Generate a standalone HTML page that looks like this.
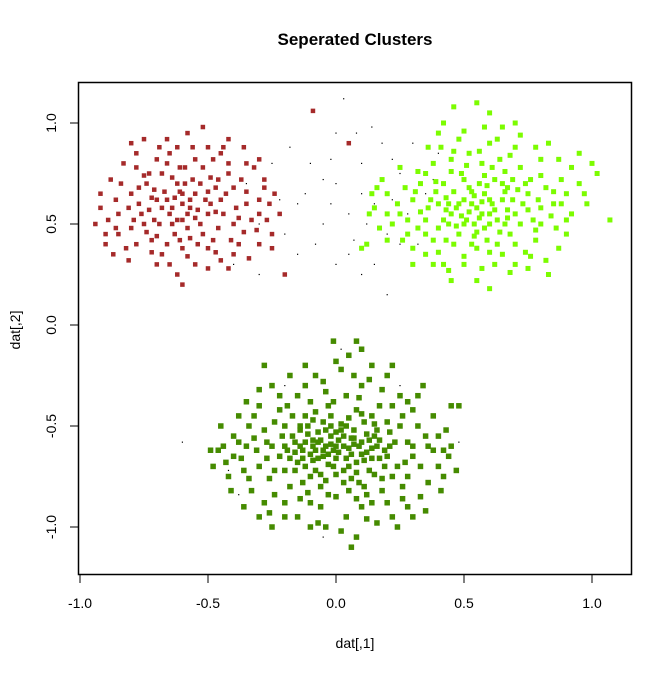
<!DOCTYPE html>
<html><head><meta charset="utf-8"><style>
body{margin:0;background:#fff}
svg text{font-family:"Liberation Sans",Arial,sans-serif;fill:#000}
</style></head><body>
<svg id="chart" width="672" height="672" viewBox="0 0 672 672" xmlns="http://www.w3.org/2000/svg">
<rect width="672" height="672" fill="#fff"/>
<text x="355" y="45" font-size="17" font-weight="bold" text-anchor="middle">Seperated Clusters</text>
<rect x="78.5" y="82.5" width="553" height="492" fill="none" stroke="#000" stroke-width="1.5"/>
<g id="axes"></g>
<g id="points"></g>
<text x="355" y="648" font-size="14" text-anchor="middle">dat[,1]</text>
<text transform="translate(20,330) rotate(-90)" font-size="14" text-anchor="middle">dat[,2]</text>
</svg>
<script>
const xTicks=[-1.0,-0.5,0.0,0.5,1.0];
const xTickLabels=["-1.0","-0.5","0.0","0.5","1.0"];
const yTicks=[-1.0,-0.5,0.0,0.5,1.0];
const yTickLabels=["-1.0","-0.5","0.0","0.5","1.0"];
const greenPts=[[-0.02,-0.55],[0.03,-0.6],[-0.08,-0.62],[0.07,-0.52],[0.0,-0.66],[-0.12,-0.58],[0.12,-0.63],[-0.05,-0.48],[0.05,-0.7],[-0.15,-0.68],[0.15,-0.55],[-0.1,-0.75],[0.09,-0.78],[-0.2,-0.5],[0.2,-0.65],[-0.25,-0.6],[0.25,-0.5],[-0.18,-0.8],[0.18,-0.82],[-0.3,-0.7],[0.3,-0.6],[-0.03,-0.4],[0.08,-0.42],[-0.12,-0.45],[0.14,-0.45],[0.0,-0.85],[-0.06,-0.9],[0.04,-0.95],[-0.22,-0.42],[0.22,-0.4],[-0.28,-0.52],[0.28,-0.75],[-0.35,-0.6],[0.35,-0.55],[-0.33,-0.82],[0.33,-0.85],[-0.4,-0.65],[0.4,-0.7],[-0.15,-0.35],[0.1,-0.3],[-0.05,-0.28],[0.18,-0.32],[-0.25,-0.3],[0.25,-0.35],[-0.28,-0.2],[0.02,-0.22],[0.08,-0.08],[0.14,-0.2],[-0.08,-0.25],[-0.45,-0.5],[0.45,-0.4],[0.42,-0.62],[-0.42,-0.75],[-0.38,-0.45],[0.38,-0.45],[-0.2,-0.95],[0.22,-0.95],[-0.1,-1.0],[0.08,-1.05],[0.06,-1.1],[-0.25,-1.0],[0.3,-0.95],[-0.36,-0.9],[0.36,-0.78],[-0.48,-0.7],[0.48,-0.4],[-0.04,-0.6],[0.01,-0.57],[-0.07,-0.53],[0.06,-0.64],[-0.01,-0.7],[0.1,-0.58],[-0.13,-0.62],[0.16,-0.6],[-0.17,-0.55],[0.19,-0.7],[-0.09,-0.67],[0.02,-0.49],[-0.16,-0.72],[0.13,-0.72],[-0.22,-0.65],[0.23,-0.58],[-0.27,-0.66],[0.27,-0.68],[-0.06,-0.8],[0.05,-0.82],[-0.14,-0.86],[0.14,-0.88],[-0.24,-0.84],[0.26,-0.86],[-0.32,-0.56],[0.32,-0.5],[-0.11,-0.5],[0.11,-0.48],[-0.02,-0.45],[0.04,-0.35],[-0.19,-0.4],[0.2,-0.48],[-0.3,-0.4],[0.3,-0.42],[-0.36,-0.72],[0.38,-0.62],[-0.08,-0.72],[0.0,-0.6],[-0.03,-0.64],[0.02,-0.52],[-0.06,-0.57],[0.08,-0.68],[-0.12,-0.7],[0.12,-0.54],[-0.16,-0.63],[0.17,-0.66],[-0.44,-0.6],[0.43,-0.52],[-0.2,-0.6],[0.22,-0.75],[-0.26,-0.76],[0.28,-0.58],[0.16,-0.98],[-0.04,-1.0],[0.1,-0.9],[-0.3,-0.95],[0.05,-0.15],[-0.12,-0.2],[0.2,-0.25],[-0.35,-0.38],[0.34,-0.3],[-0.01,-0.62],[0.04,-0.66],[-0.09,-0.6],[0.09,-0.6],[-0.04,-0.52],[0.06,-0.56],[-0.14,-0.52],[0.0,-0.74],[-0.1,-0.64],[0.14,-0.66],
[-0.07,-0.58],[0.01,-0.63],[-0.03,-0.69],[0.07,-0.59],[-0.11,-0.54],[0.11,-0.67],[-0.05,-0.65],[0.04,-0.5],[-0.09,-0.47],[0.13,-0.57],[-0.14,-0.6],[0.16,-0.52],[-0.18,-0.66],[0.19,-0.62],[-0.21,-0.55],[0.21,-0.53],[-0.06,-0.74],[0.06,-0.76],[-0.13,-0.78],[0.11,-0.8],[-0.2,-0.72],[0.24,-0.7],[-0.24,-0.48],[0.26,-0.45],[-0.17,-0.45],[0.17,-0.4],[-0.01,-0.38],[0.09,-0.36],[-0.1,-0.38],[0.03,-0.78],[-0.03,-0.84],[0.08,-0.86],[-0.1,-0.88],[0.18,-0.76],[-0.27,-0.58],[0.3,-0.65],[-0.31,-0.62],[0.33,-0.7],[-0.34,-0.5],[0.36,-0.6],[-0.37,-0.66],[0.4,-0.55],[-0.4,-0.55],[0.42,-0.75],[-0.43,-0.68],[0.44,-0.65],[-0.46,-0.62],[0.45,-0.6],[-0.2,-0.88],[0.2,-0.88],[-0.28,-0.88],[0.28,-0.9],[-0.15,-0.95],[0.12,-0.96],[-0.07,-0.98],[0.02,-1.02],[-0.12,-0.3],[0.13,-0.27],[-0.22,-0.35],[0.28,-0.38],[-0.32,-0.45],[0.32,-0.35],[-0.3,-0.32],[-0.04,-0.33],[0.07,-0.25],[0.0,-0.18],[-0.18,-0.25],[0.22,-0.2],[-0.38,-0.58],[0.41,-0.82],[-0.41,-0.82],[0.35,-0.92],[-0.34,-0.76],[0.26,-0.8],[-0.24,-0.72],[0.15,-0.74],[-0.09,-0.57],[0.05,-0.61],[-0.02,-0.59],[0.03,-0.55],[-0.05,-0.62],[0.07,-0.56],[-0.07,-0.66],[0.1,-0.64],[-0.13,-0.66],[0.14,-0.61],[-0.16,-0.58],[0.17,-0.57],[-0.19,-0.62],[0.21,-0.6],[0.0,-0.53],[-0.02,-0.5],[0.05,-0.46],[-0.08,-0.43],[0.1,-0.44],[-0.14,-0.5],[0.15,-0.49],[0.03,-0.72],[-0.04,-0.77],[0.08,-0.73],[-0.11,-0.83],[0.12,-0.84],[-0.26,-0.93],[0.24,-1.0],[-0.49,-0.62],[0.47,-0.72],[0.1,-0.12],[-0.01,-0.08]];
const brownPts=[[-0.6,0.6],[-0.65,0.55],[-0.55,0.65],[-0.7,0.62],[-0.5,0.55],[-0.62,0.7],[-0.58,0.48],[-0.75,0.5],[-0.45,0.62],[-0.68,0.75],[-0.52,0.78],[-0.8,0.65],[-0.4,0.5],[-0.72,0.42],[-0.48,0.42],[-0.85,0.55],[-0.35,0.6],[-0.6,0.38],[-0.78,0.78],[-0.42,0.75],[-0.9,0.45],[-0.3,0.55],[-0.65,0.85],[-0.5,0.88],[-0.82,0.38],[-0.38,0.4],[-0.7,0.3],[-0.55,0.3],[-0.92,0.58],[-0.28,0.68],[-0.75,0.92],[-0.42,0.92],[-0.58,0.95],[-0.35,0.8],[-0.88,0.72],[-0.25,0.45],[-0.62,0.52],[-0.57,0.58],[-0.67,0.66],[-0.53,0.5],[-0.73,0.57],[-0.47,0.68],[-0.63,0.45],[-0.56,0.72],[-0.77,0.6],[-0.44,0.55],[-0.69,0.5],[-0.51,0.62],[-0.61,0.78],[-0.66,0.4],[-0.8,0.48],[-0.33,0.52],[-0.86,0.62],[-0.4,0.68],[-0.74,0.7],[-0.46,0.48],[-0.6,0.65],[-0.54,0.4],[-0.7,0.82],[-0.37,0.72],[-0.83,0.8],[-0.3,0.62],[-0.94,0.5],[-0.26,0.6],[-0.62,0.25],[-0.45,0.32],[-0.6,0.2],[-0.5,0.28],[-0.87,0.35],[-0.28,0.72],[-0.32,0.78],[-0.25,0.38],[-0.52,0.98],[-0.78,0.85],[-0.66,0.92],[-0.45,0.85],[-0.72,0.63],[-0.58,0.55],[-0.49,0.73],[-0.64,0.58],[-0.09,1.06],[0.05,0.9],[-0.2,0.25],[-0.42,0.28],[-0.85,0.45],[-0.78,0.4],[-0.36,0.46],[-0.3,0.4],[-0.22,0.55],[-0.55,0.82],[-0.68,0.35],[-0.75,0.74],
[-0.63,0.63],[-0.57,0.62],[-0.68,0.58],[-0.54,0.57],[-0.71,0.67],[-0.49,0.6],[-0.59,0.7],[-0.64,0.5],[-0.52,0.45],[-0.76,0.55],[-0.43,0.65],[-0.66,0.8],[-0.48,0.82],[-0.81,0.58],[-0.39,0.58],[-0.61,0.42],[-0.74,0.46],[-0.47,0.36],[-0.56,0.88],[-0.69,0.88],[-0.84,0.7],[-0.35,0.66],[-0.89,0.52],[-0.31,0.47],[-0.58,0.34],[-0.72,0.36],[-0.41,0.42],[-0.64,0.73],[-0.53,0.7],[-0.77,0.68],[-0.46,0.72],[-0.6,0.52],[-0.66,0.62],[-0.55,0.53],[-0.71,0.52],[-0.5,0.66],[-0.62,0.88],[-0.8,0.9],[-0.44,0.88],[-0.27,0.52],[-0.24,0.65],[-0.3,0.82],[-0.36,0.88],[-0.92,0.65],[-0.9,0.4],[-0.81,0.32],[-0.65,0.3],[-0.5,0.38],[-0.4,0.35],[-0.34,0.33],[-0.57,0.43],[-0.7,0.44],[-0.79,0.52],[-0.86,0.48],[-0.73,0.75],[-0.59,0.78],[-0.42,0.8],[-0.38,0.53],[-0.47,0.56],[-0.61,0.66]];
const limePts=[[0.55,0.58],[0.5,0.62],[0.6,0.55],[0.45,0.55],[0.65,0.62],[0.52,0.68],[0.58,0.48],[0.4,0.6],[0.7,0.55],[0.48,0.45],[0.62,0.72],[0.35,0.52],[0.75,0.65],[0.42,0.7],[0.68,0.45],[0.3,0.62],[0.8,0.58],[0.55,0.38],[0.57,0.8],[0.38,0.42],[0.72,0.78],[0.25,0.55],[0.85,0.6],[0.45,0.82],[0.65,0.35],[0.2,0.65],[0.9,0.52],[0.35,0.75],[0.78,0.42],[0.5,0.3],[0.6,0.9],[0.28,0.45],[0.88,0.72],[0.15,0.58],[0.95,0.85],[0.42,0.3],[0.7,0.3],[0.55,1.1],[0.46,1.08],[0.65,0.98],[0.4,0.95],[0.8,0.82],[0.12,0.4],[1.02,0.75],[1.07,0.52],[0.98,0.6],[0.83,0.25],[0.6,0.18],[0.75,0.28],[0.38,0.3],[0.53,0.6],[0.47,0.58],[0.58,0.65],[0.63,0.52],[0.43,0.63],[0.67,0.68],[0.51,0.52],[0.56,0.7],[0.61,0.6],[0.44,0.5],[0.73,0.6],[0.36,0.58],[0.49,0.75],[0.66,0.5],[0.54,0.44],[0.39,0.66],[0.77,0.52],[0.32,0.48],[0.82,0.68],[0.27,0.68],[0.59,0.42],[0.46,0.4],[0.69,0.72],[0.33,0.7],[0.86,0.48],[0.22,0.5],[0.74,0.36],[0.52,0.85],[0.64,0.82],[0.3,0.38],[0.9,0.65],[0.18,0.72],[0.41,0.88],[0.7,0.88],[0.48,0.92],[0.95,0.7],[0.25,0.78],[0.57,0.28],[0.63,0.4],[0.35,0.35],[0.8,0.5],[0.87,0.38],[0.5,0.5],[0.6,0.62],[0.56,0.53],[0.53,0.66],[0.44,0.6],[0.67,0.57],[0.76,0.72],[0.14,0.65],[0.1,0.38],[0.2,0.42],[0.58,0.98],[0.83,0.9],[1.0,0.8],[0.92,0.55],
[0.52,0.56],[0.57,0.61],[0.48,0.6],[0.62,0.57],[0.54,0.5],[0.59,0.69],[0.46,0.66],[0.64,0.46],[0.42,0.52],[0.69,0.62],[0.5,0.72],[0.61,0.78],[0.4,0.48],[0.72,0.5],[0.37,0.62],[0.74,0.7],[0.45,0.76],[0.66,0.76],[0.33,0.56],[0.79,0.62],[0.53,0.4],[0.6,0.36],[0.43,0.42],[0.7,0.4],[0.28,0.52],[0.84,0.54],[0.31,0.66],[0.8,0.74],[0.56,0.86],[0.46,0.86],[0.68,0.84],[0.38,0.8],[0.24,0.6],[0.88,0.6],[0.26,0.42],[0.9,0.45],[0.5,0.34],[0.62,0.3],[0.4,0.36],[0.76,0.34],[0.58,0.74],[0.51,0.79],[0.66,0.66],[0.71,0.67],[0.47,0.49],[0.55,0.46],[0.35,0.45],[0.78,0.47],[0.63,0.92],[0.5,0.96],[0.72,0.94],[0.36,0.88],[0.78,0.88],[0.2,0.55],[0.17,0.48],[0.92,0.78],[0.97,0.65],[0.3,0.3],[0.44,0.27],[0.68,0.26],[0.82,0.32],[0.55,0.22],[0.45,0.22],[0.65,0.7],[0.57,0.55],[0.6,0.5],[0.49,0.54],[0.43,0.57],[0.67,0.53],[0.54,0.64],[0.75,0.57],[0.39,0.71],[0.32,0.76],[0.85,0.66],[0.16,0.68],[0.13,0.55],[0.87,0.82],[0.42,1.0],[0.6,1.05],[0.7,1.0]];
const blackPts=[[-0.4,0.3],[-0.3,0.25],[-0.2,0.45],[-0.15,0.6],[-0.1,0.8],[-0.05,0.5],[0.0,0.7],[0.05,0.55],[0.1,0.8],[0.15,0.6],[0.2,0.45],[0.25,0.75],[0.3,0.9],[0.35,0.65],[0.4,0.85],[-0.25,0.8],[-0.18,0.88],[0.05,0.35],[0.1,0.25],[0.15,0.3],[-0.08,0.4],[0.0,0.95],[0.08,0.95],[0.18,0.9],[-0.12,0.65],[-0.02,0.6],[0.12,0.5],[0.22,0.62],[-0.22,0.62],[0.18,0.72],[0.03,1.12],[0.14,0.98],[0.2,0.15],[0.0,0.3],[-0.3,0.5],[0.28,0.55],[-0.02,0.82],[0.07,0.42],[0.25,0.4],[-0.15,0.35],[-0.6,-0.58],[-0.42,-0.72],[-0.38,-0.84],[0.48,-0.58],[0.02,-0.12],[0.25,-0.3],[-0.05,-1.05],[-0.2,-0.3],[0.32,0.4],[0.38,0.72],[-0.35,0.7],[0.1,0.65],[-0.05,0.72],[0.22,0.82]];

const NS="http://www.w3.org/2000/svg";
function sx(v){return 336+v*256;}
function sy(v){return 325-v*202;}
const axes=document.getElementById('axes');
xTicks.forEach((t,i)=>{
  const l=document.createElementNS(NS,'line');
  l.setAttribute('x1',sx(t));l.setAttribute('x2',sx(t));l.setAttribute('y1',575);l.setAttribute('y2',583);
  l.setAttribute('stroke','#000');
  
  
  axes.appendChild(l);
  const tx=document.createElementNS(NS,'text');
  tx.setAttribute('x',sx(t));tx.setAttribute('y',608);tx.setAttribute('font-size','14');tx.setAttribute('text-anchor','middle');
  tx.textContent=xTickLabels[i];
  
  
  axes.appendChild(tx);
});
yTicks.forEach((t,i)=>{
  const l=document.createElementNS(NS,'line');
  l.setAttribute('x1',70);l.setAttribute('x2',78);l.setAttribute('y1',sy(t));l.setAttribute('y2',sy(t));
  l.setAttribute('stroke','#000');
  
  
  axes.appendChild(l);
  const tx=document.createElementNS(NS,'text');
  tx.setAttribute('transform','translate(56,'+sy(t)+') rotate(-90)');tx.setAttribute('font-size','14');tx.setAttribute('text-anchor','middle');
  tx.textContent=yTickLabels[i];
  
  
  axes.appendChild(tx);
});
const pg=document.getElementById('points');
function drawSeries(pts,color,size,name){
  pts.forEach(p=>{
    const r=document.createElementNS(NS,'rect');
    r.setAttribute('x',sx(p[0])-size/2);r.setAttribute('y',sy(p[1])-size/2);
    r.setAttribute('width',size);r.setAttribute('height',size);r.setAttribute('fill',color);
    
    
    pg.appendChild(r);
  });
}
drawSeries(blackPts,'#000',1.2,'noise-point');
drawSeries(brownPts,'#A52A2A',4.5,'brown-cluster-point');
drawSeries(limePts,'#7CFC00',5,'lime-cluster-point');
drawSeries(greenPts,'#458B00',5.5,'green-cluster-point');
</script>
</body></html>
